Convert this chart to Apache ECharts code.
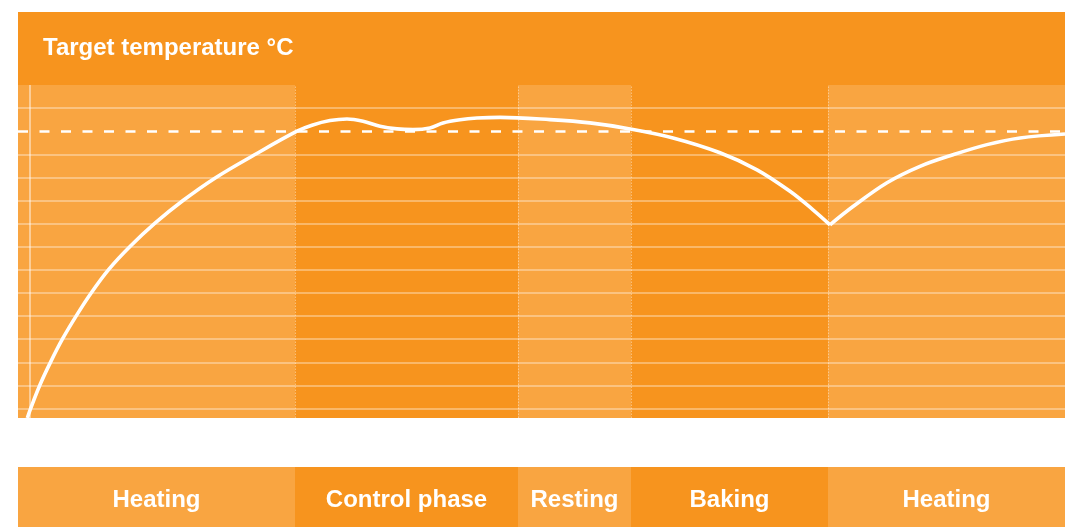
<!DOCTYPE html>
<html>
<head>
<meta charset="utf-8">
<script src="https://cdn.jsdelivr.net/npm/echarts@6/dist/echarts.min.js"></script>
<style>
html,body{margin:0;padding:0;background:#fff;}
#c{width:1065px;height:527px;}
</style>
</head>
<body>
<div id="c"></div>
<script>
// ---- data ----
const titleText = 'Target temperature °C';
const phaseNames = ['Heating', 'Control phase', 'Resting', 'Baking', 'Heating'];
const phaseStarts = [0, 27.7, 50.0, 61.3, 81.0];
const phaseEnds = [27.7, 50.0, 61.3, 81.0, 104.7];
const gridLevels = [0, 1, 2, 3, 4, 5, 6, 7, 8, 9, 10, 11, 13];
const targetLevel = 12;
const axisMarkX = 1.2;
// curve: heating + control + resting + baking (until the dip)
const curveAx = [0.93, 1.27, 2.19, 3.28, 4.45, 5.84, 7.35, 9.1, 11.2, 13.7, 16.5, 19.8, 23.65, 27.9, 29.4, 31.2, 32.9, 34.5, 36.2, 37.9, 39.5, 41.2, 42.5, 44.2, 45.9, 48.2, 53.2, 57.2, 61.2, 65.5, 70.2, 73.9, 77.2, 79.5, 81.2];
const curveAy = [-0.41, 0.01, 1.02, 2.03, 3.01, 4.02, 5.02, 6.03, 7.01, 8.02, 9.0, 10.0, 10.98, 12.0, 12.26, 12.46, 12.53, 12.43, 12.21, 12.10, 12.07, 12.14, 12.36, 12.5, 12.57, 12.6, 12.5, 12.36, 12.1, 11.71, 11.07, 10.33, 9.40, 8.6, 7.95];
// curve: re-heating after the dip
const curveBx = [81.2, 83.5, 86.9, 90.2, 93.5, 96.9, 100.2, 104.7];
const curveBy = [7.95, 8.74, 9.77, 10.48, 10.98, 11.42, 11.71, 11.88];

// ---- styles ----
const DARK = '#F7941E';
const LIGHT = '#F9A541';
const LINE = 'rgba(255,255,255,0.45)';

const chart = echarts.init(document.getElementById('c'), null, {renderer: 'canvas'});

const bandsMain = phaseNames.map((n, i) => [
  {xAxis: phaseStarts[i], itemStyle: {color: i % 2 === 0 ? LIGHT : DARK}},
  {xAxis: phaseEnds[i]}
]);
const bandsLabel = phaseNames.map((n, i) => [
  {name: n, xAxis: phaseStarts[i], itemStyle: {color: i % 2 === 0 ? LIGHT : DARK}},
  {xAxis: phaseEnds[i]}
]);

const option = {
  backgroundColor: '#ffffff',
  animation: false,
  title: {
    text: titleText,
    left: 38, top: 31,
    textStyle: {color: '#fff', fontFamily: 'Liberation Sans', fontWeight: 'bold', fontSize: 24}
  },
  graphic: [{
    type: 'rect', left: 18, top: 12, z: -10,
    shape: {width: 1047, height: 73},
    style: {fill: DARK}
  }],
  grid: [
    {left: 18, right: 0, top: 85, bottom: 109, show: true, backgroundColor: DARK, borderWidth: 0},
    {left: 18, right: 0, top: 467, bottom: 0, show: true, backgroundColor: DARK, borderWidth: 0}
  ],
  xAxis: [
    {type: 'value', gridIndex: 0, min: 0, max: 104.7, show: false},
    {type: 'value', gridIndex: 1, min: 0, max: 104.7, show: false}
  ],
  yAxis: [
    {type: 'value', gridIndex: 0, min: -0.41, max: 14, show: false},
    {type: 'value', gridIndex: 1, min: 0, max: 1, show: false}
  ],
  series: [
    {
      type: 'line', xAxisIndex: 0, yAxisIndex: 0, data: [], silent: true,
      markArea: {silent: true, data: bandsMain},
      markLine: {
        silent: true, symbol: 'none', label: {show: false},
        data: [
          ...gridLevels.map(v => ({yAxis: v, lineStyle: {color: LINE, width: 1.6, type: 'solid'}})),
          {xAxis: axisMarkX, lineStyle: {color: LINE, width: 2, type: 'solid'}},
          ...phaseStarts.slice(1).map(v => ({xAxis: v, lineStyle: {color: 'rgba(255,255,255,0.4)', width: 1, type: [1.5, 1.5]}})),
          {yAxis: targetLevel, lineStyle: {color: '#ffffff', width: 2.6, type: [10, 11.5]}}
        ]
      }
    },
    {
      type: 'line', xAxisIndex: 0, yAxisIndex: 0, z: 5,
      data: curveAx.map((x, i) => [x, curveAy[i]]),
      smooth: 0.35, symbol: 'none', clip: true,
      lineStyle: {color: '#ffffff', width: 3.6}
    },
    {
      type: 'line', xAxisIndex: 0, yAxisIndex: 0, z: 5,
      data: curveBx.map((x, i) => [x, curveBy[i]]),
      smooth: 0.35, symbol: 'none', clip: true,
      lineStyle: {color: '#ffffff', width: 3.6}
    },
    {
      type: 'line', xAxisIndex: 1, yAxisIndex: 1, data: [], silent: true,
      markArea: {
        silent: true, data: bandsLabel,
        label: {show: true, position: 'inside', offset: [0, 3], color: '#fff', fontFamily: 'Liberation Sans', fontWeight: 'bold', fontSize: 24}
      }
    }
  ]
};
chart.setOption(option);
</script>
</body>
</html>
